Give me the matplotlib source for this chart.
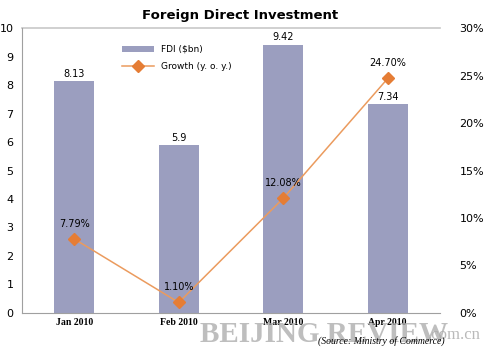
import matplotlib
matplotlib.use('Agg')
import matplotlib.pyplot as plt

# data
months = ['Jan 2010', 'Feb 2010', 'Mar 2010', 'Apr 2010']
fdi = [8.13, 5.9, 9.42, 7.34]
fdi_labels = ['8.13', '5.9', '9.42', '7.34']
growth = [7.79, 1.10, 12.08, 24.70]
growth_labels = ['7.79%', '1.10%', '12.08%', '24.70%']

bar_color = '#9b9ebf'
line_color = '#eb9b5e'
marker_color = '#e57d35'

fig = plt.figure(figsize=(5, 3.52), dpi=100)
ax = fig.add_axes([0.044, 0.111, 0.836, 0.809])
x = range(len(months))

ax.bar(x, fdi, width=0.38, color=bar_color, label='FDI ($bn)', zorder=2)
ax.set_xlim(-0.5, 3.5)
ax.set_ylim(0, 10)
ax.set_yticks(range(0, 11))
ax.tick_params(axis='y', length=0, labelsize=8, pad=6)
ax.set_xticks(list(x))
ax.set_xticklabels(months, fontsize=7, family='Liberation Serif', fontweight='bold')
ax.tick_params(axis='x', length=0, pad=4)
for s in ['top', 'right']:
    ax.spines[s].set_visible(False)
for s in ['left', 'bottom']:
    ax.spines[s].set_color('#a0a0a0')
ax.axhline(10, color='#c8c8c8', lw=1.2, clip_on=False)
for i, v in enumerate(fdi):
    ax.text(i, v + 0.08, fdi_labels[i], ha='center', va='bottom', fontsize=7)

ax2 = ax.twinx()
ax2.plot(x, growth, color=line_color, lw=1.1, marker='D', markersize=6,
         markerfacecolor=marker_color, markeredgecolor=marker_color,
         label='Growth (y. o. y.)', zorder=3)
ax2.set_ylim(0, 30)
ax2.set_yticks(range(0, 31, 5))
ax2.set_yticklabels([f'{v}%' for v in range(0, 31, 5)])
ax2.tick_params(axis='y', length=0, labelsize=8, pad=14)
for s in ['top', 'right', 'left', 'bottom']:
    ax2.spines[s].set_visible(False)
for i, v in enumerate(growth):
    ax2.text(i, v + 1.1, growth_labels[i], ha='center', va='bottom', fontsize=7)

h1, l1 = ax.get_legend_handles_labels()
h2, l2 = ax2.get_legend_handles_labels()
ax2.legend(h1 + h2, l1 + l2, loc='upper left', bbox_to_anchor=(0.22, 0.97),
           frameon=False, fontsize=6.5, handlelength=3.5, labelspacing=0.9)

fig.text(0.48, 0.955, 'Foreign Direct Investment', ha='center', va='center',
         fontsize=9.5, fontweight='bold')
# watermark
fig.text(0.40, 0.01, 'BEIJING REVIEW', ha='left', va='bottom', fontsize=21,
         family='Liberation Serif', fontweight='bold', color='#a8a8a8', alpha=0.75)
fig.text(0.855, 0.025, '.com.cn', ha='left', va='bottom', fontsize=12,
         family='Liberation Serif', color='#a8a8a8', alpha=0.8)
fig.text(0.89, 0.018, '(Source: Ministry of Commerce)', ha='right', va='bottom',
         fontsize=7, family='Liberation Serif', style='italic')

fig.savefig('out.png', dpi=100)
